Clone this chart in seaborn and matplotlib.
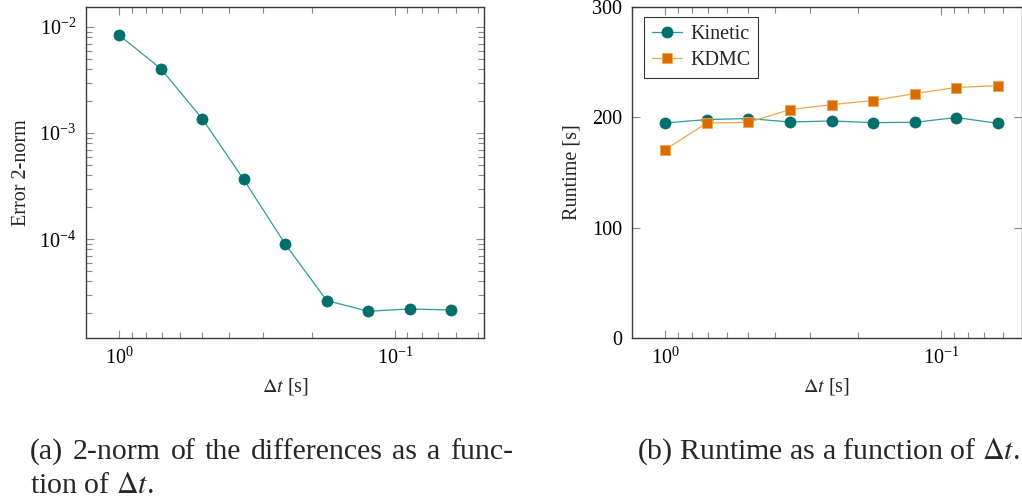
import matplotlib
matplotlib.use("Agg")
import matplotlib.pyplot as plt
import seaborn as sns
import numpy as np
import pandas as pd
from matplotlib.ticker import LogLocator, FixedLocator, NullLocator

# ---- data ----
dt = [1.0, 0.7071, 0.5, 0.3536, 0.25, 0.1768, 0.125, 0.0884, 0.0625]
error_2norm = [8.4e-3, 4.07e-3, 1.37e-3, 3.66e-4, 9.0e-5, 2.64e-5, 2.09e-5, 2.2e-5, 2.15e-5]
runtime_kinetic = [194.9, 198.0, 198.9, 195.8, 196.7, 195.2, 195.5, 199.8, 194.6]
runtime_kdmc = [170.8, 194.9, 195.5, 207.0, 211.5, 215.2, 221.5, 227.0, 228.8]
series_names = ["Kinetic", "KDMC"]
runtime_ticks = [0, 100, 200, 300]
caption_a_lines = ["(a) 2-norm of the differences as a func-", "tion of $\\Delta t$."]
caption_b = "(b) Runtime as a function of $\\Delta t$."

sns.set_theme(style="white")
plt.rcParams["font.family"] = ["Liberation Serif", "DejaVu Serif"]
plt.rcParams["mathtext.fontset"] = "stix"
plt.rcParams["axes.unicode_minus"] = True

teal_line = "#2a9e9b"
teal_mark = "#006e6a"
orange_line = "#f5a447"
orange_mark = "#d96c00"
tick_col = "#8a8a8a"
spine_col = "#3a3a3a"
fs = 14.5

fig = plt.figure(figsize=(10.22, 5.03), dpi=100)
ax1 = fig.add_axes([86 / 1022, (503 - 338) / 503, 398 / 1022, 331 / 503])
ax2 = fig.add_axes([632 / 1022, (503 - 338) / 503, 389.5 / 1022, 331 / 503])

df1 = pd.DataFrame({"dt": dt, "err": error_2norm})
sns.lineplot(data=df1, x="dt", y="err", ax=ax1, color=teal_line, linewidth=0.9,
             marker="o", markersize=8, markerfacecolor=teal_mark,
             markeredgecolor=teal_mark, markeredgewidth=0.5)

df2 = pd.DataFrame({"dt": dt * 2,
                    "runtime": runtime_kinetic + runtime_kdmc,
                    "method": [series_names[0]] * len(dt) + [series_names[1]] * len(dt)})
sns.lineplot(data=df2[df2.method == series_names[0]], x="dt", y="runtime", ax=ax2,
             color=teal_line, linewidth=0.9, marker="o", markersize=8,
             markerfacecolor=teal_mark, markeredgecolor=teal_mark,
             markeredgewidth=0.5, label=series_names[0])
sns.lineplot(data=df2[df2.method == series_names[1]], x="dt", y="runtime", ax=ax2,
             color=orange_line, linewidth=0.9, marker="s", markersize=7.5,
             markerfacecolor=orange_mark, markeredgecolor=orange_line,
             markeredgewidth=0.6, label=series_names[1])

for ax in (ax1, ax2):
    ax.set_xscale("log")
    ax.xaxis.set_major_locator(LogLocator(base=10))
    ax.xaxis.set_minor_locator(LogLocator(base=10, subs=np.arange(2, 10)))
    ax.tick_params(which="both", direction="in", top=True, right=True,
                   bottom=True, left=True,
                   color=tick_col, labelsize=fs, labelcolor="black")
    ax.tick_params(which="major", length=6, width=0.8, pad=7)
    ax.tick_params(which="minor", length=4, width=0.8)
    for s in ax.spines.values():
        s.set_color(spine_col)
        s.set_linewidth(1.0)
    ax.set_xlabel("$\\Delta t$ [s]", fontsize=fs, labelpad=5)

ax1.set_xlim(1.32, 0.0475)
ax2.set_xlim(1.32, 0.0513)

ax1.set_yscale("log")
ax1.set_ylim(1.17e-5, 1.55e-2)
ax1.yaxis.set_major_locator(LogLocator(base=10))
ax1.yaxis.set_minor_locator(LogLocator(base=10, subs=np.arange(2, 10)))
ax1.set_ylabel("Error 2-norm", fontsize=fs, labelpad=6)

ax2.set_ylim(0, 300)
ax2.yaxis.set_major_locator(FixedLocator(runtime_ticks))
ax2.yaxis.set_minor_locator(NullLocator())
ax2.set_ylabel("Runtime [s]", fontsize=fs, labelpad=8)

leg = ax2.legend(loc="upper left", bbox_to_anchor=(0.03, 0.97), fontsize=fs,
                 frameon=True, fancybox=False, edgecolor="black",
                 handlelength=1.5, handletextpad=0.4, borderpad=0.4,
                 labelspacing=0.35, borderaxespad=0)
leg.get_frame().set_linewidth(0.8)

cap_fs = 21.5
W = 1022.0
# justified first line of caption (a), from x=30 to x=513 px
renderer = fig.canvas.get_renderer()
words = caption_a_lines[0].split(" ")
x_left, x_right = 30.0, 513.0
texts = []
widths = []
for w in words:
    t = fig.text(0, 1 - 459 / 503, w, fontsize=cap_fs, ha="left", va="baseline")
    texts.append(t)
    widths.append(t.get_window_extent(renderer=renderer).width)
gap = (x_right - x_left - sum(widths)) / (len(words) - 1)
x = x_left
for t, wd in zip(texts, widths):
    t.set_x(x / W)
    x += wd + gap
fig.text(30 / W, 1 - 493 / 503, caption_a_lines[1], fontsize=cap_fs, ha="left", va="baseline")
fig.text(637 / W, 1 - 459 / 503, caption_b, fontsize=cap_fs, ha="left", va="baseline")

fig.savefig("out.png", dpi=100)
